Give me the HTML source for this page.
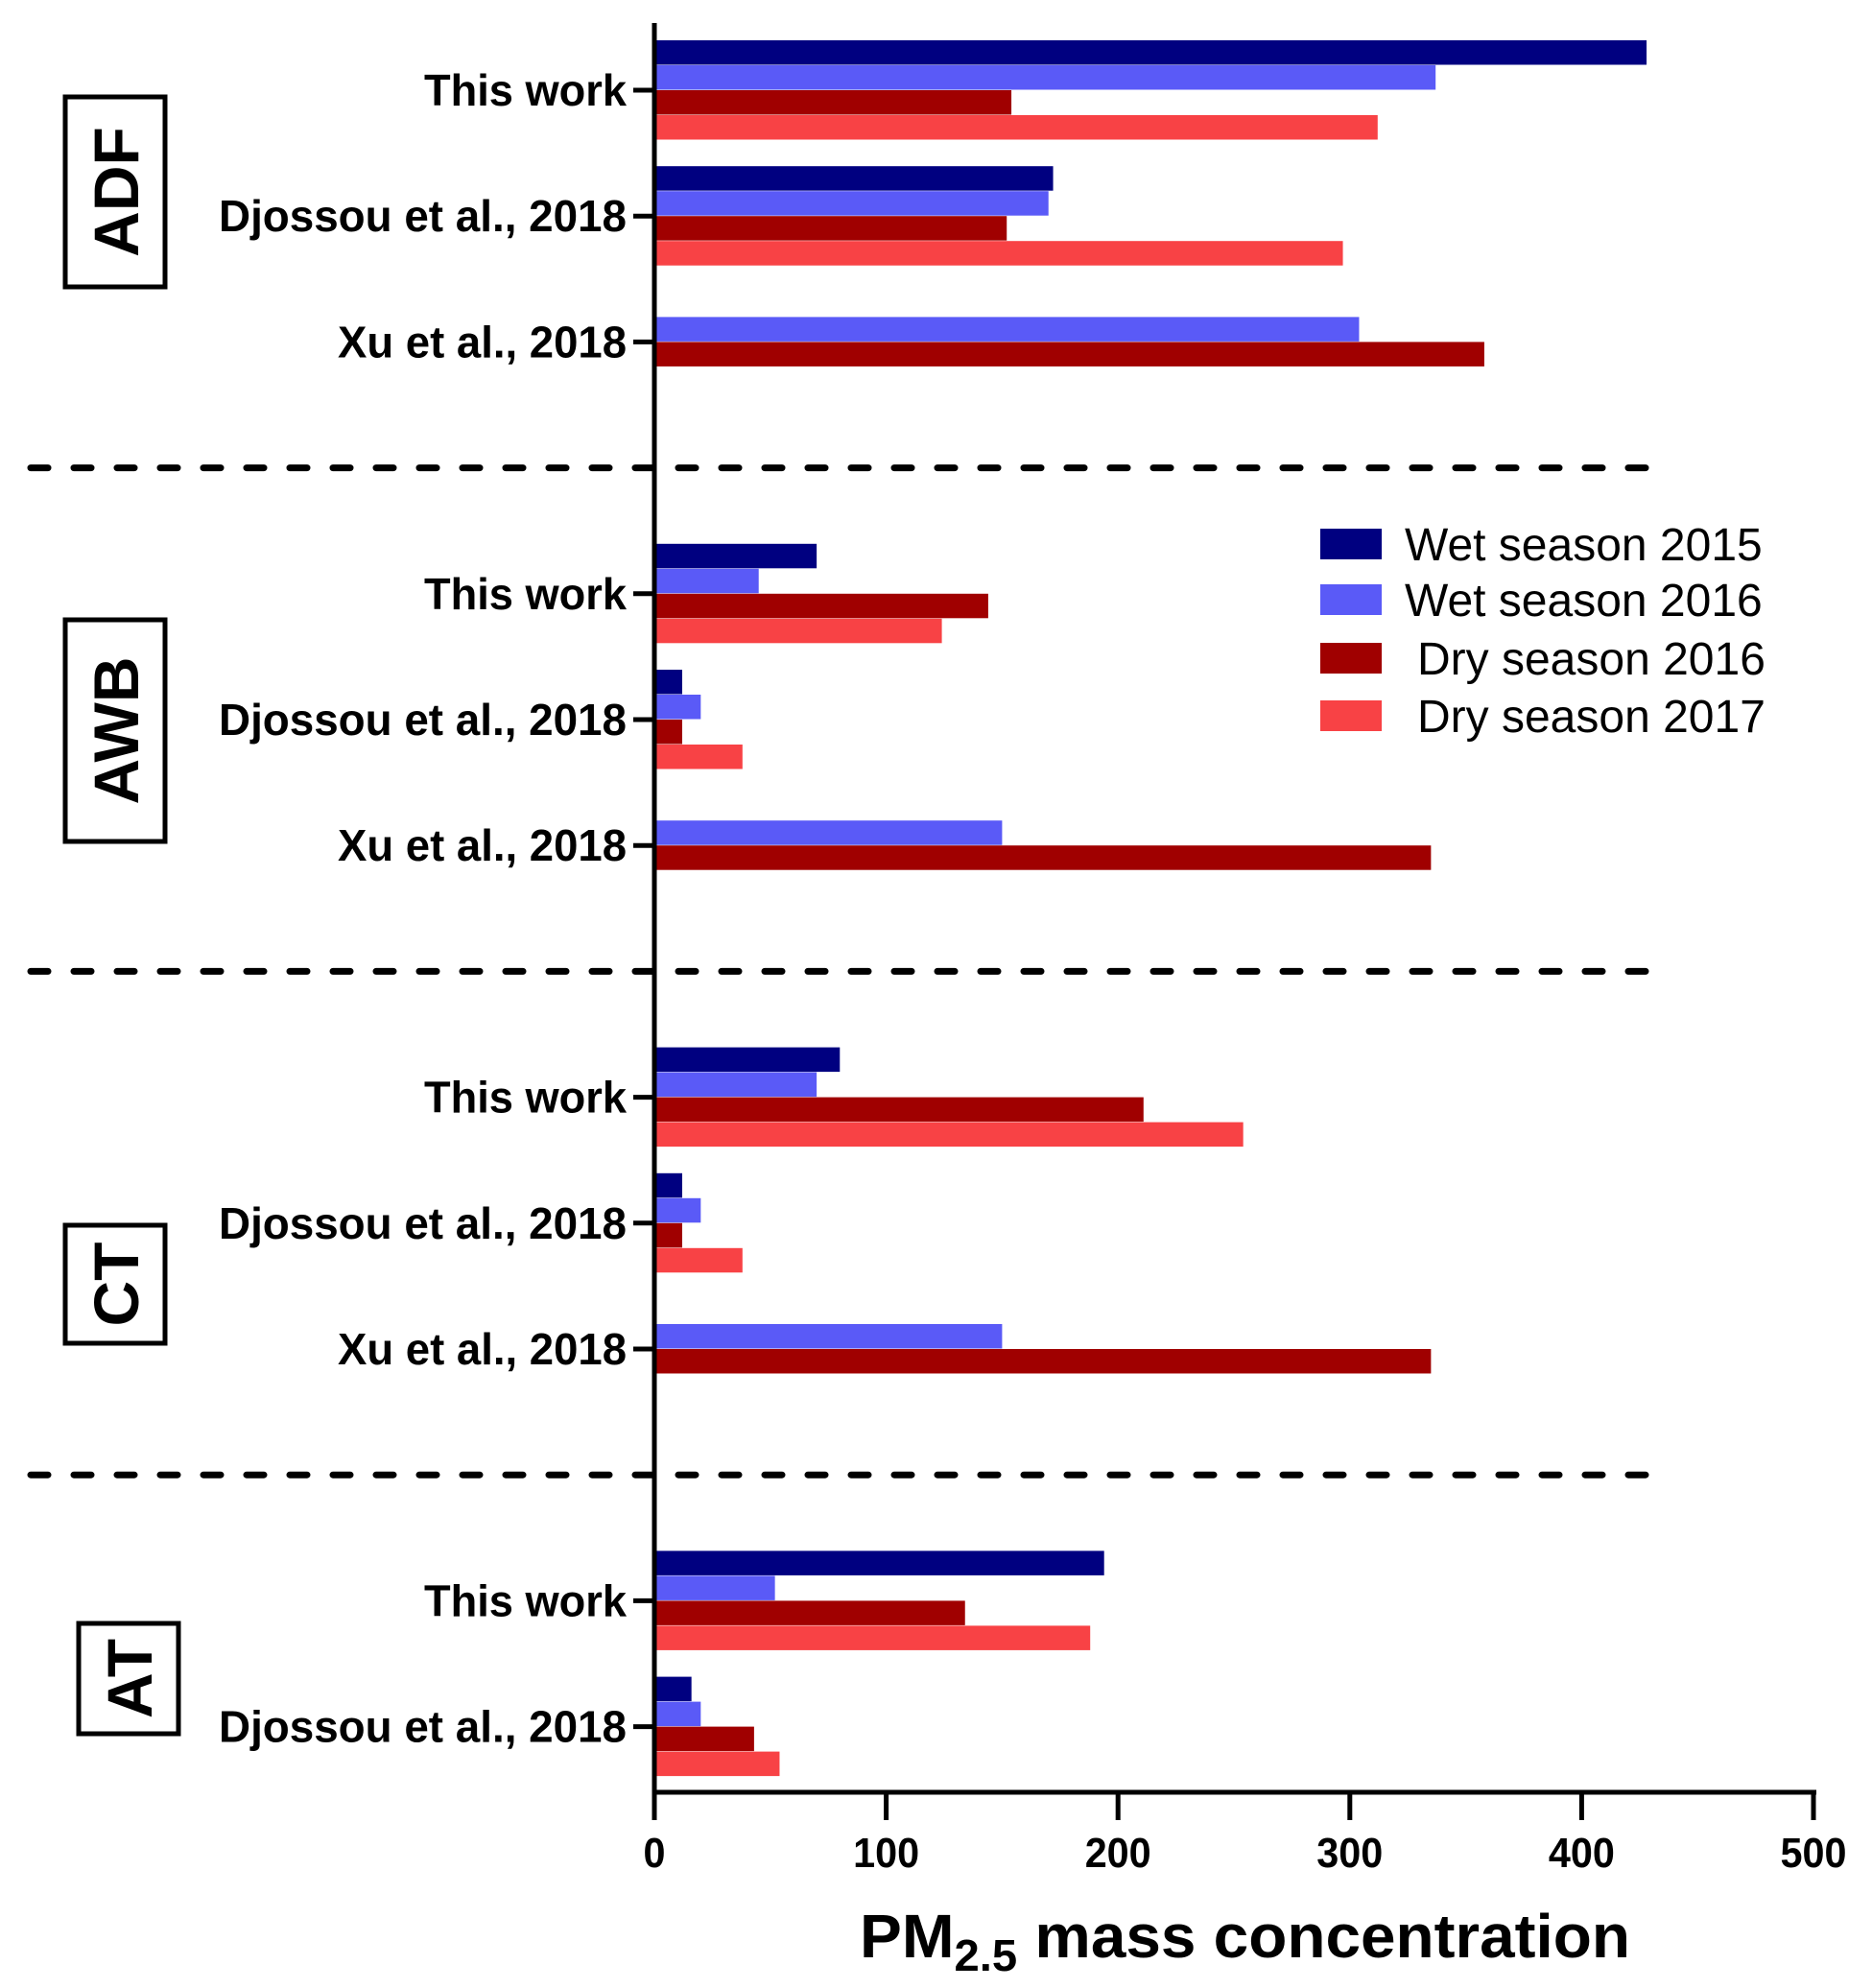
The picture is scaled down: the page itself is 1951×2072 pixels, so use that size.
<!DOCTYPE html>
<html><head><meta charset="utf-8"><style>
html,body{margin:0;padding:0;background:#fff;}
svg{display:block;font-family:"Liberation Sans",Arial,sans-serif;}
</style></head><body>
<svg id="chart" width="1951" height="2072" viewBox="0 0 1951 2072" xmlns="http://www.w3.org/2000/svg">
<g id="dividers"></g>
<g id="bars"></g>
<g id="axes"></g>
<g id="groups"></g>
<g id="legend"></g>
<text x="896" y="2040" font-weight="bold" font-size="64" textLength="803" lengthAdjust="spacingAndGlyphs">PM<tspan font-size="46" dy="14">2.5</tspan><tspan dy="-14"> mass concentration</tspan></text>
</svg>
<script>
const categories = ["This work","Djossou et al., 2018","Xu et al., 2018",null,"This work","Djossou et al., 2018","Xu et al., 2018",null,"This work","Djossou et al., 2018","Xu et al., 2018",null,"This work","Djossou et al., 2018"];
const seriesNames = ["Wet season 2015","Wet season 2016"," Dry season 2016"," Dry season 2017"];
const wet2015 = [428,172,null,null,70,12,null,null,80,12,null,null,194,16];
const wet2016 = [337,170,304,null,45,20,150,null,70,20,150,null,52,20];
const dry2016 = [154,152,358,null,144,12,335,null,211,12,335,null,134,43];
const dry2017 = [312,297,null,null,124,38,null,null,254,38,null,null,188,54];
const xTicks = [0,100,200,300,400,500];
const groupNames = ["ADF","AWB","CT","AT"];
const colors = ["#000080","#5a5af7","#a00000","#f84245"];

const NS="http://www.w3.org/2000/svg";
const X0=682, X1=1890, Y0=94, STEP=131.2, BH=26, XAXY=1868;
const boxes=[[68,101,198],[68,646,231],[68,1277,123],[82,1692,115]];
const xs = v => X0 + (v/500)*(X1-X0);
const ys = i => Y0 + i*STEP;
function mk(tag, attrs, parent){const e=document.createElementNS(NS,tag);for(const k in attrs)e.setAttribute(k,attrs[k]);parent.appendChild(e);return e;}
const series=[wet2015,wet2016,dry2016,dry2017];
const gBars=document.getElementById('bars');
categories.forEach((c,i)=>{
  if(c===null) return;
  series.forEach((s,k)=>{
    const v=s[i]; if(v===null) return;
    const r=mk('rect',{x:X0,y:ys(i)-2*BH+k*BH,width:xs(v)-X0,height:BH-0.5,fill:colors[k]},gBars);
    
    
  });
});
const gDiv=document.getElementById('dividers');
categories.forEach((c,i)=>{
  if(c!==null) return;
  const l=mk('line',{x1:32,x2:1720,y1:ys(i),y2:ys(i),stroke:'#000','stroke-width':7,'stroke-dasharray':'18 27','stroke-linecap':'round'},gDiv);
  
  
});
const gAx=document.getElementById('axes');
const ya=mk('line',{x1:X0,x2:X0,y1:24,y2:XAXY+2,stroke:'#000','stroke-width':5},gAx);


const xa=mk('line',{x1:X0-2,x2:X1+3,y1:XAXY,y2:XAXY,stroke:'#000','stroke-width':5},gAx);


const lw={"This work":211,"Djossou et al., 2018":425,"Xu et al., 2018":301};
categories.forEach((c,i)=>{
  if(c===null) return;
  const t=mk('line',{x1:660,x2:X0,y1:ys(i),y2:ys(i),stroke:'#000','stroke-width':5},gAx);
  
  
  const tx=mk('text',{x:653-lw[c],y:ys(i)+16,'font-size':46,'font-weight':'bold',textLength:lw[c],lengthAdjust:'spacingAndGlyphs'},gAx);
  tx.textContent=c;
  
  
});
xTicks.forEach(v=>{
  const t=mk('line',{x1:xs(v),x2:xs(v),y1:XAXY,y2:XAXY+29,stroke:'#000','stroke-width':5},gAx);
  
  
  const s=String(v);
  const w=s.length*23;
  const tx=mk('text',{x:xs(v),y:1946,'font-size':44,'font-weight':'bold','text-anchor':'middle',textLength:w,lengthAdjust:'spacingAndGlyphs'},gAx);
  tx.textContent=s;
  
  
});
const gG=document.getElementById('groups');
groupNames.forEach((g,j)=>{
  const [bx,by,h]=boxes[j];
  const cy=by+h/2;
  const r=mk('rect',{x:bx,y:by,width:104,height:h,fill:'none',stroke:'#000','stroke-width':5},gG);
  
  
  const t=mk('text',{x:0,y:0,'font-size':66,'font-weight':'bold','text-anchor':'middle',transform:`translate(${bx+76},${cy}) rotate(-90)`},gG);
  t.textContent=g;
  
  
});
const gL=document.getElementById('legend');
const ly=[567,625,686,746];
seriesNames.forEach((n,k)=>{
  const r=mk('rect',{x:1376,y:ly[k]-16,width:64,height:32,fill:colors[k]},gL);
  
  
  const t=mk('text',{x:n.startsWith(' ')?1477:1464,y:ly[k]+17,'font-size':48},gL);
  t.textContent=n.trim();
  
  
});
</script>
</body></html>
